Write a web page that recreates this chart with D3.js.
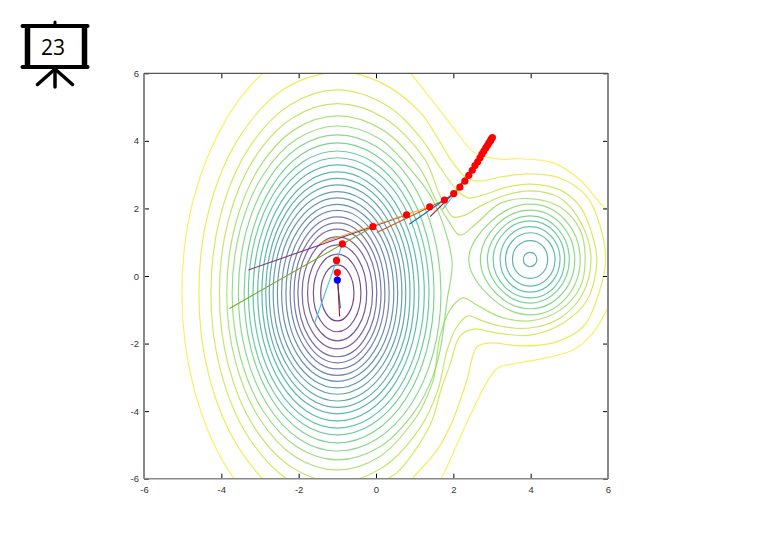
<!DOCTYPE html>
<html>
<head>
<meta charset="utf-8">
<script src="https://cdnjs.cloudflare.com/ajax/libs/d3/7.8.5/d3.min.js"></script>
<style>
html,body{margin:0;padding:0;background:#fff;}
svg{display:block;}
text{font-family:"Liberation Sans",Arial,sans-serif;}
</style>
</head>
<body>
<svg id="chart" width="759" height="548"></svg>
<script>
// ---- axis ticks
const xTicks = [-6,-4,-2,0,2,4,6];
const yTicks = [-6,-4,-2,0,2,4,6];
const slideNumber = "23";

// ---- left well rings (levels 1..19) in axis units
const leftCentre = [-1,-0.5];
const leftNorth = [0.83,1.15,1.42,1.66,1.89,2.07,2.25,2.44,2.62,2.81,3.00,3.20,3.39,3.58,3.79,4.00,4.20,4.44,4.68];
const leftEast  = [0.43,0.61,0.76,0.91,1.02,1.13,1.23,1.34,1.46,1.56,1.67,1.77,1.88,1.99,2.11,2.25,2.37,2.50,2.68];
const leftWest  = [0.43,0.62,0.77,0.91,1.02,1.12,1.22,1.33,1.44,1.55,1.66,1.76,1.85,1.95,2.06,2.18,2.30,2.41,2.56];
const leftDiagN = [0.59,0.81,1.00,1.17,1.34,1.46,1.59,1.73,1.85,1.99,2.12,2.26,2.40,2.53,2.68,2.83,2.97,3.14,3.31];
const leftDiagE = [0.30,0.43,0.54,0.64,0.72,0.80,0.87,0.95,1.03,1.10,1.18,1.25,1.33,1.41,1.49,1.59,1.68,1.77,1.90];
const leftDiagW = [0.30,0.44,0.54,0.64,0.72,0.79,0.86,0.94,1.02,1.10,1.17,1.24,1.31,1.38,1.46,1.54,1.63,1.70,1.81];
const leftLevels = [1,2,3,4,5,6,7,8,9,10,11,12,13,14,15,16,17,18,19];

// ---- right well rings (levels 13..20)
const rightCentre = [3.99,0.49];
const rightNorth = [0.21,0.56,0.79,0.97,1.14,1.29,1.46,1.64];
const rightEast  = [0.17,0.45,0.64,0.77,0.89,1.01,1.15,1.29];
const rightWest  = [0.18,0.46,0.64,0.78,0.96,1.11,1.29,1.59];
const rightDiagN = [0.15,0.40,0.56,0.69,0.81,0.91,1.03,1.16];
const rightDiagE = [0.12,0.32,0.45,0.54,0.63,0.71,0.81,0.91];
const rightDiagW = [0.13,0.33,0.45,0.55,0.66,0.75,0.86,0.98];
const rightLevels = [13,14,15,16,17,18,19,20];

// ---- the outer, deformed contours, traced point by point
const contour20 = [[-1,-5.44],[-2.04,-5.06],[-2.92,-3.99],[-3.51,-2.39],[-3.72,-0.50],[-3.51,1.39],[-2.92,2.99],[-2.04,4.06],[-1,4.44],[0.09,4.06],[1.01,2.99],[1.47,2.25],[1.86,1.07],[1.97,0.33],[1.84,-0.71],[1.66,-2.19],[1.46,-3.00],[1.01,-3.99],[0.09,-5.06]];
const contour21 = [[-1,-5.74],[-2.10,-5.34],[-3.02,-4.21],[-3.64,-2.51],[-3.86,-0.50],[-3.64,1.51],[-3.02,3.21],[-2.10,4.34],[-1,4.74],[0.15,4.34],[1.12,3.21],[1.55,2.25],[1.86,1.66],[2.17,1.21],[2.61,1.57],[3.21,2.15],[3.98,2.29],[4.76,2.04],[5.28,1.36],[5.41,0.49],[5.28,-0.33],[4.76,-1.01],[3.98,-1.33],[3.21,-1.21],[2.61,-0.86],[2.25,-0.65],[1.91,-1.01],[1.65,-1.81],[1.50,-3.00],[1.28,-3.67],[1.02,-4.21],[0.10,-5.34]];
const contour22 = [[-1,-6.10],[-2.17,-5.67],[-3.16,-4.46],[-3.82,-2.64],[-4.05,-0.50],[-3.82,1.64],[-3.16,3.46],[-2.17,4.67],[-1,5.10],[0.22,4.67],[1.26,3.46],[1.65,2.40],[1.99,1.75],[2.30,1.80],[2.61,2.01],[3.21,2.34],[3.98,2.52],[4.76,2.31],[5.33,1.51],[5.56,0.49],[5.33,-0.56],[4.76,-1.24],[3.98,-1.54],[3.21,-1.48],[2.69,-1.30],[2.38,-1.18],[2.07,-1.54],[1.84,-2.19],[1.60,-3.37],[1.16,-4.46],[0.17,-5.67]];
const contour23 = [[-1,-6.51],[-2.25,-6.05],[-3.31,-4.75],[-4.02,-2.80],[-4.27,-0.50],[-4.02,1.80],[-3.31,3.75],[-2.25,5.05],[-1,5.51],[0.28,5.05],[1.14,4.11],[1.65,3.23],[2.09,2.55],[2.38,2.31],[2.77,2.40],[3.39,2.63],[3.98,2.72],[4.76,2.55],[5.25,2.10],[5.46,1.66],[5.71,0.50],[5.46,-0.71],[4.84,-1.39],[3.98,-1.75],[3.13,-1.69],[2.51,-1.57],[2.17,-1.78],[1.91,-2.63],[1.70,-3.30],[1.40,-4.41],[0.62,-5.74],[0.31,-6.00],[-0.20,-6.35]];
const contour24 = [[-1,-7.04],[-2.37,-6.54],[-3.53,-5.12],[-4.31,-3.00],[-4.58,-0.50],[-4.31,2.00],[-3.53,4.12],[-2.37,5.54],[-1,6.04],[0.10,5.74],[1.14,4.85],[1.58,4.11],[1.99,3.35],[2.35,2.90],[2.69,2.81],[3.21,2.93],[3.98,3.02],[4.76,2.90],[5.46,2.34],[5.79,1.51],[5.94,0.50],[5.79,-0.41],[5.35,-1.51],[4.58,-1.98],[3.72,-2.07],[2.95,-1.98],[2.61,-2.10],[2.35,-3.08],[1.99,-4.26],[1.58,-5.15],[0.93,-6.01],[0.49,-6.63]];
const contour25 = [[-1,-7.87],[-2.54,-7.31],[-3.84,-5.71],[-4.71,-3.32],[-5.02,-0.50],[-4.71,2.32],[-3.84,4.71],[-2.92,6.01],[-2.54,6.31],[-1,6.87],[0.54,6.31],[0.88,6.01],[1.14,5.65],[1.99,4.41],[2.56,3.64],[3.21,3.46],[3.72,3.47],[4.58,3.35],[5.28,2.84],[5.79,2.16],[6.00,1.92],[6.44,0.47],[6.00,-0.92],[5.61,-1.69],[5.09,-2.19],[4.24,-2.46],[3.65,-2.58],[3.15,-2.72],[2.90,-3.08],[2.38,-4.26],[1.68,-6.01],[1.27,-6.78]];
const tracedContours = [contour20,contour21,contour22,contour23,contour24,contour25];
const tracedLevels = [20,21,22,23,24,25];

// ---- iterates
const iterX = [3.01,2.98,2.96,2.92,2.88,2.84,2.79,2.74,2.69,2.63,2.56,2.49,2.40,2.30,2.17,2.01,1.77,1.39,0.79,-0.08,-0.87,-1.02,-1.00];
const iterY = [4.10,4.05,4.00,3.94,3.86,3.79,3.70,3.61,3.50,3.38,3.27,3.13,2.98,2.81,2.63,2.44,2.25,2.05,1.81,1.46,0.95,0.46,0.10];
const finalPoint = [-1.00,-0.12];

// ---- step segments
const segFromX = [-1.00,-1.00,-0.87,-0.08,0.79,1.39,1.77,2.01,2.17,2.30,2.40,2.49,2.56];
const segFromY = [-0.12,0.10,0.95,1.46,1.81,2.05,2.25,2.44,2.63,2.81,2.98,3.13,3.27];
const segToX   = [-0.92,-0.94,-1.59,-3.79,-3.30,-1.45,0.02,0.86,1.40,1.72,1.99,2.10,2.20];
const segToY   = [-0.96,-1.20,-1.40,-0.96,0.18,0.97,1.29,1.53,1.76,1.97,2.40,2.60,2.80];
const segColors = ["#0072bd","#a2142f","#4dbeee","#77ac30","#7e2f8e","#edb120","#d95319","#0072bd","#a2142f","#4dbeee","#77ac30","#7e2f8e","#edb120"];

// ---- drawing
const svg = d3.select("#chart");
const x = d3.scaleLinear().domain([-6,6]).range([144,608]);
const y = d3.scaleLinear().domain([-6,6]).range([478.7,73.3]);
const color = d3.scaleSequential(d3.interpolateViridis).domain([1,25]);

svg.append("defs").append("clipPath").attr("id","plot")
  .append("rect").attr("x",x(-6)).attr("y",y(6)).attr("width",x(6)-x(-6)).attr("height",y(-6)-y(6));

const ringLine = d3.line().x(d=>x(d[0])).y(d=>y(d[1])).curve(d3.curveCardinalClosed.tension(-0.125));
const tracedLine = d3.line().x(d=>x(d[0])).y(d=>y(d[1])).curve(d3.curveCatmullRomClosed.alpha(0.5));

function ringPoints(c,N,E,W,dN,dE,dW,i){
  return [
    [c[0]+E[i],c[1]],[c[0]+dE[i],c[1]+dN[i]],[c[0],c[1]+N[i]],[c[0]-dW[i],c[1]+dN[i]],
    [c[0]-W[i],c[1]],[c[0]-dW[i],c[1]-dN[i]],[c[0],c[1]-N[i]],[c[0]+dE[i],c[1]-dN[i]]
  ];
}

const plot = svg.append("g").attr("clip-path","url(#plot)");
const contours = plot.append("g").attr("fill","none").attr("stroke-width",1.2).attr("stroke-opacity",0.72);

contours.selectAll("path.left").data(leftLevels).join("path").attr("class","left")
  .attr("stroke",d=>color(d))
  .attr("d",(d,i)=>ringLine(ringPoints(leftCentre,leftNorth,leftEast,leftWest,leftDiagN,leftDiagE,leftDiagW,i)));
contours.selectAll("path.right").data(rightLevels).join("path").attr("class","right")
  .attr("stroke",d=>color(d))
  .attr("d",(d,i)=>ringLine(ringPoints(rightCentre,rightNorth,rightEast,rightWest,rightDiagN,rightDiagE,rightDiagW,i)));
contours.selectAll("path.traced").data(tracedLevels).join("path").attr("class","traced")
  .attr("stroke",d=>color(d))
  .attr("d",(d,i)=>tracedLine(tracedContours[i]));

// step segments
plot.append("g").selectAll("line").data(segColors).join("line")
  .attr("x1",(d,i)=>x(segFromX[i])).attr("y1",(d,i)=>y(segFromY[i]))
  .attr("x2",(d,i)=>x(segToX[i])).attr("y2",(d,i)=>y(segToY[i]))
  .attr("stroke",d=>d).attr("stroke-width",1.1);

// iterates
plot.append("g").selectAll("circle").data(iterX).join("circle")
  .attr("cx",d=>x(d)).attr("cy",(d,i)=>y(iterY[i])).attr("r",3.6).attr("fill","#ff0000");
plot.append("circle").attr("cx",x(finalPoint[0])).attr("cy",y(finalPoint[1])).attr("r",3.6).attr("fill","#0000ff");

// axes
function styleAxis(g){
  g.select(".domain").remove();
  g.selectAll(".tick line").attr("stroke","#000").attr("stroke-width",1);
  g.selectAll("text").attr("fill","#333").attr("font-size",9.5).attr("font-family",'"Liberation Sans",Arial,sans-serif');
}
svg.append("g").attr("transform",`translate(0,${y(-6)})`)
  .call(d3.axisBottom(x).tickValues(xTicks).tickFormat(String).tickSizeInner(-5).tickPadding(8)).call(styleAxis);
svg.append("g").attr("transform",`translate(${x(-6)},0)`)
  .call(d3.axisLeft(y).tickValues(yTicks).tickFormat(String).tickSizeInner(-5).tickPadding(5)).call(styleAxis);
svg.append("g").attr("transform",`translate(0,${y(6)})`)
  .call(d3.axisTop(x).tickValues(xTicks).tickFormat("").tickSizeInner(-5)).call(styleAxis);
svg.append("g").attr("transform",`translate(${x(6)},0)`)
  .call(d3.axisRight(y).tickValues(yTicks).tickFormat("").tickSizeInner(-5)).call(styleAxis);

// plot box
const box = svg.append("g").attr("stroke","#8a8a8a").attr("fill","none");
box.append("line").attr("x1",x(-6)).attr("x2",x(-6)).attr("y1",y(6)).attr("y2",y(-6)).attr("stroke-width",2);
box.append("line").attr("x1",x(6)).attr("x2",x(6)).attr("y1",y(6)).attr("y2",y(-6)).attr("stroke-width",2);
box.append("line").attr("x1",x(-6)).attr("x2",x(6)).attr("y1",y(6)).attr("y2",y(6)).attr("stroke","#555").attr("stroke-width",1.2);
box.append("line").attr("x1",x(-6)).attr("x2",x(6)).attr("y1",y(-6)).attr("y2",y(-6)).attr("stroke","#888").attr("stroke-width",1.5);

// slide-number icon
const icon = svg.append("g").attr("stroke","#000").attr("fill","none").attr("stroke-linecap","round");
icon.append("line").attr("x1",55).attr("x2",55).attr("y1",22).attr("y2",26).attr("stroke-width",3);
icon.append("line").attr("x1",22.5).attr("x2",87.5).attr("y1",26).attr("y2",26).attr("stroke-width",4);
icon.append("line").attr("x1",22.5).attr("x2",87.5).attr("y1",67).attr("y2",67).attr("stroke-width",4);
icon.append("line").attr("x1",27.5).attr("x2",27.5).attr("y1",26).attr("y2",67).attr("stroke-width",5.5).attr("stroke-linecap","butt");
icon.append("line").attr("x1",84.5).attr("x2",84.5).attr("y1",26).attr("y2",67).attr("stroke-width",5.5).attr("stroke-linecap","butt");
icon.append("line").attr("x1",55).attr("x2",55).attr("y1",68).attr("y2",87).attr("stroke-width",3.5);
icon.append("line").attr("x1",55).attr("x2",37.5).attr("y1",69).attr("y2",84.5).attr("stroke-width",3.5);
icon.append("line").attr("x1",55).attr("x2",72.5).attr("y1",69).attr("y2",84.5).attr("stroke-width",3.5);
svg.append("text").attr("x",53).attr("y",55).attr("text-anchor","middle")
  .attr("font-size",21).style("font-family",'"Open Sans",sans-serif').attr("fill","#000").text(slideNumber);
</script>
</body>
</html>
